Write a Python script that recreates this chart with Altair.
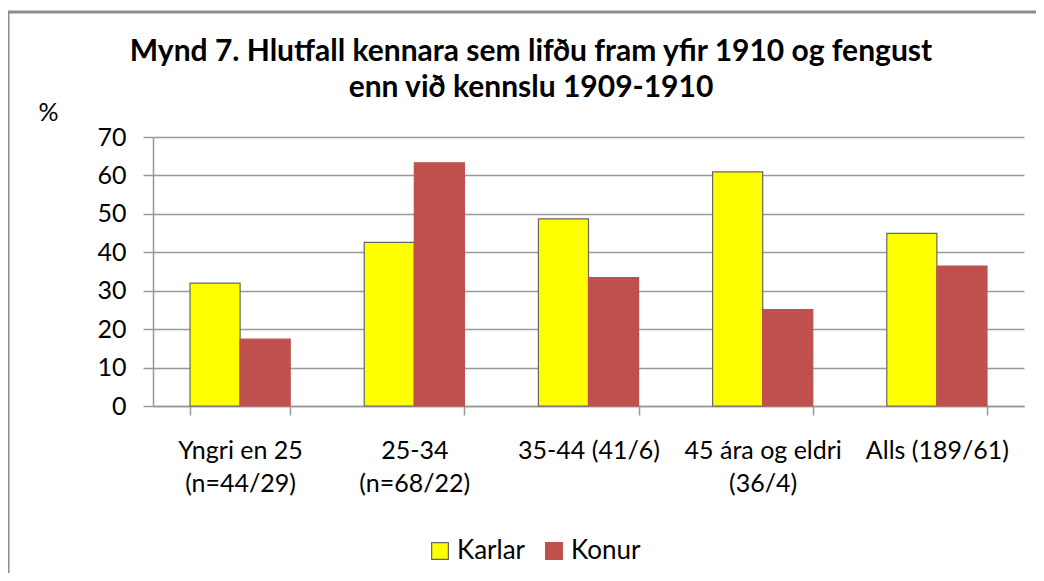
import altair as alt
import pandas as pd

categories = ["Yngri en 25\n(n=44/29)", "25-34\n(n=68/22)", "35-44 (41/6)", "45 ára og eldri\n(36/4)", "Alls (189/61)"]
karlar = [32.0, 42.6, 48.7, 60.9, 44.9]
konur = [17.4, 63.3, 33.4, 25.1, 36.4]
series = ["Karlar", "Konur"]
title_lines = ["Mynd 7. Hlutfall kennara sem lifðu fram yfir 1910 og fengust", "enn við kennslu 1909-1910"]

rows = []
for c, k, w in zip(categories, karlar, konur):
    rows.append({"cat": c, "kyn": "Karlar", "val": k})
    rows.append({"cat": c, "kyn": "Konur", "val": w})
df = pd.DataFrame(rows)

FONT = "Lato"
FS = 25
W, H = 871, 269

bars = alt.Chart(df).mark_bar(strokeWidth=1.2).encode(
    x=alt.X("cat:N", sort=categories, title=None,
            scale=alt.Scale(paddingInner=0.425, paddingOuter=0.2125),
            axis=alt.Axis(labelExpr="split(datum.label, '\\n')", labelAngle=0,
                          labelFontSize=FS, labelFont=FONT, labelColor="#000000",
                          labelPadding=23, labelLineHeight=33, tickBand="extent",
                          tickSize=9, tickColor="#999999", domainColor="#999999",
                          domainWidth=1.5, tickWidth=1.5, grid=False)),
    xOffset=alt.XOffset("kyn:N", sort=series),
    y=alt.Y("val:Q", scale=alt.Scale(domain=[0, 70]),
            axis=alt.Axis(values=list(range(0, 71, 10)), title="%", titleAngle=0,
                          titleX=-115, titleY=-17, titleAlign="left", titleBaseline="alphabetic",
                          titleFont=FONT, titleFontSize=FS, titleFontWeight="normal",
                          titleColor="#000000",
                          labelFontSize=FS, labelFont=FONT, labelColor="#000000",
                          labelPadding=17, tickSize=10, tickColor="#999999",
                          domainColor="#999999", domainWidth=1.5, tickWidth=1.5,
                          gridColor="#999999", gridWidth=1.5)),
    color=alt.Color("kyn:N", sort=series, title=None,
                    scale=alt.Scale(domain=series, range=["#FFFF00", "#C0504D"]),
                    legend=alt.Legend(orient="none", legendX=274, legendY=401,
                                      direction="horizontal", symbolType="square",
                                      symbolSize=280, labelFontSize=26, labelFont=FONT,
                                      labelColor="#000000", columnPadding=15,
                                      labelOffset=4, symbolStrokeWidth=1.2)),
    stroke=alt.Stroke("kyn:N", sort=series, title=None,
                      scale=alt.Scale(domain=series, range=["#666666", "#C0504D"]),
                      legend=None),
)

one = pd.DataFrame({"a": [0]})
frame_top = alt.Chart(one).mark_rule(color="#8c8c8c", strokeWidth=3, clip=False).encode(
    x=alt.value(-145), x2=alt.value(900), y=alt.value(-125))
frame_left = alt.Chart(one).mark_rule(color="#8c8c8c", strokeWidth=3, clip=False).encode(
    x=alt.value(-145), y=alt.value(-125), y2=alt.value(460))

title = alt.Chart(one).mark_text(
    font=FONT, fontSize=30, fontWeight="bold", color="#000000", align="center",
    baseline="alphabetic", lineBreak="\n", lineHeight=36, clip=False
).encode(x=alt.value(378), y=alt.value(-76), text=alt.value("\n".join(title_lines)))

chart = alt.layer(bars, frame_top, frame_left, title).properties(
    width=W, height=H,
    autosize=alt.AutoSizeParams(type="none"),
    padding={"left": 145, "top": 129, "right": 12, "bottom": 167},
).configure_view(stroke=None).configure_axis(grid=True)

chart.save("out.html", embed_options={"renderer": "svg", "actions": False})
